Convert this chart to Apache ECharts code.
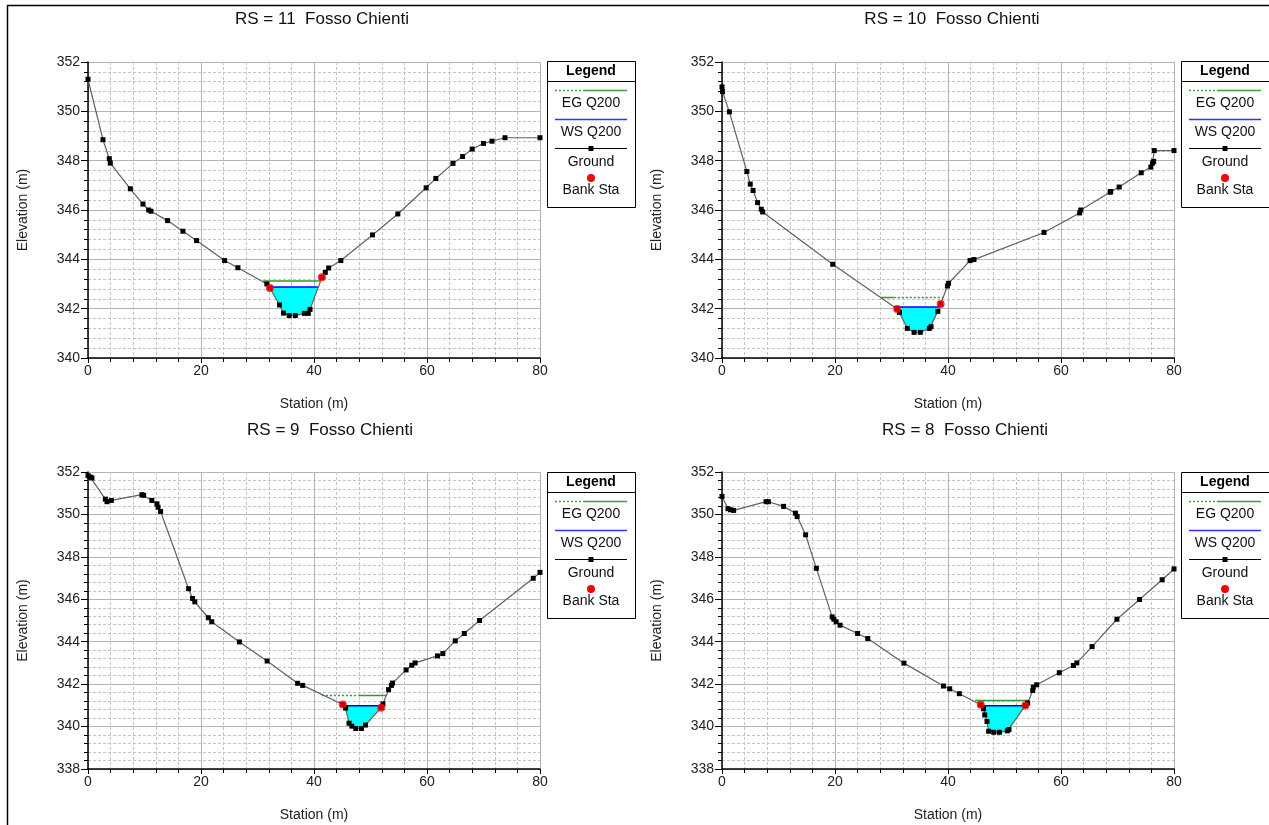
<!DOCTYPE html>
<html>
<head>
<meta charset="utf-8">
<script src="https://cdn.jsdelivr.net/npm/echarts@6/dist/echarts.min.js"></script>
<style>
html,body{margin:0;padding:0;background:#fff;}
#chart{width:1269px;height:825px;}
</style>
</head>
<body>
<div id="chart"></div>
<script>
// ---------------- DATA ----------------
const panelTitles = ['RS = 11  Fosso Chienti', 'RS = 10  Fosso Chienti', 'RS = 9  Fosso Chienti', 'RS = 8  Fosso Chienti'];
const xTicks = [0, 80, 20];           // min, max, step (Station)
const yRangeTop = [340, 352, 2];      // min, max, step (Elevation) top row
const yRangeBottom = [338, 352, 2];   // bottom row
const legendNames = ['EG Q200', 'WS Q200', 'Ground', 'Bank Sta'];

// Ground points [station, elevation]
const ground11 = [[0,351.30],[2.65,348.85],[3.77,348.08],[3.95,347.90],[7.49,346.86],[9.73,346.24],[10.73,346.0],[11.14,345.95],[14.09,345.57],[16.8,345.14],[19.22,344.76],[24.17,343.95],[26.53,343.66],[31.66,343.0],[32.19,342.84],[33.9,342.15],[34.6,341.82],[35.6,341.72],[36.7,341.72],[38.3,341.81],[39.0,341.81],[39.3,341.97],[41.4,343.27],[42.0,343.47],[42.6,343.65],[44.75,343.95],[50.35,344.99],[54.84,345.84],[59.85,346.90],[61.56,347.28],[64.6,347.89],[66.3,348.17],[68.0,348.47],[70.0,348.70],[71.5,348.79],[73.8,348.93],[80,348.93]];
const ground10 = [[0,350.99],[0.1,350.80],[1.3,349.98],[4.4,347.56],[5.0,347.05],[5.5,346.79],[6.3,346.30],[6.95,346.03],[7.2,345.92],[19.6,343.80],[31.0,341.99],[31.4,341.85],[32.8,341.2],[34.0,341.04],[35.1,341.04],[36.7,341.2],[37.0,341.27],[38.2,341.89],[38.7,342.19],[39.9,342.92],[40.1,343.03],[43.9,343.95],[44.6,343.99],[57.0,345.09],[63.3,345.88],[63.5,346.0],[68.7,346.72],[68.8,346.75],[70.3,346.93],[74.2,347.51],[75.9,347.74],[76.2,347.90],[76.4,347.97],[76.5,348.41],[80,348.41]];
const ground9 = [[0,351.83],[0.4,351.76],[0.7,351.72],[3.07,350.72],[3.36,350.60],[4.13,350.66],[9.55,350.93],[9.85,350.90],[11.3,350.66],[12.2,350.50],[12.4,350.34],[12.85,350.14],[17.8,346.50],[18.5,346.04],[18.9,345.88],[21.3,345.13],[21.9,344.94],[26.8,343.99],[31.7,343.09],[37.1,342.04],[38.0,341.94],[45.1,341.04],[45.6,340.87],[46.2,340.16],[46.7,340.02],[47.4,339.91],[48.4,339.91],[49.1,340.07],[51.9,340.89],[52.2,341.07],[53.2,341.74],[53.7,341.94],[53.9,342.05],[56.3,342.67],[57.3,342.89],[57.9,343.0],[61.85,343.33],[62.8,343.44],[65.0,344.04],[66.6,344.39],[69.3,345.0],[78.8,346.99],[80,347.27]];
const ground8 = [[0,350.85],[1.06,350.27],[1.5,350.22],[2.06,350.19],[7.8,350.60],[8.2,350.60],[10.9,350.38],[13.0,350.06],[13.3,349.90],[14.8,349.04],[16.7,347.46],[19.5,345.17],[19.8,345.06],[20.2,344.94],[20.9,344.78],[24.0,344.39],[25.8,344.15],[32.2,342.99],[39.2,341.91],[40.3,341.78],[42.0,341.55],[45.8,341.03],[46.3,340.84],[46.5,340.55],[46.9,340.24],[47.2,339.78],[48.1,339.73],[49.1,339.73],[50.5,339.80],[50.8,339.86],[53.7,340.99],[54.1,341.11],[55.0,341.70],[55.1,341.86],[55.7,341.97],[59.7,342.54],[62.2,342.88],[62.8,343.0],[65.5,343.77],[69.9,345.06],[73.9,345.99],[77.9,346.92],[80,347.43]];

// Bank stations [station, elevation]
const bank11 = [[32.19,342.84],[41.4,343.27]];
const bank10 = [[31.0,341.99],[38.7,342.19]];
const bank9  = [[45.1,341.04],[51.9,340.89]];
const bank8  = [[45.8,341.03],[53.7,340.99]];

// Water surface elevation (WS Q200)
const ws11 = 342.88, ws10 = 342.07, ws9 = 340.98, ws8 = 340.98;

// Energy grade (EG Q200): elevation, dotted station span, solid station span
const egElev = [343.12, 342.45, 341.47, 341.23];
const egDotted = [null, [30.4, 39.1], [41.4, 47.9], null];
const egSolid  = [[30.95, 41.2], [28.1, 30.4], [47.9, 52.8], [44.8, 54.3]];

// ---------------- LAYOUT ----------------
const FONT = '"Liberation Sans", Arial, Helvetica, sans-serif';
const grids = [
  {left: 88, top: 62, width: 452, height: 296},
  {left: 722, top: 62, width: 452, height: 296},
  {left: 88, top: 472, width: 452, height: 297},
  {left: 722, top: 472, width: 452, height: 297}
];
const grounds = [ground11, ground10, ground9, ground8];
const banks = [bank11, bank10, bank9, bank8];
const wsLevels = [ws11, ws10, ws9, ws8];
const titlePos = [[322, 19], [952, 19], [330, 430], [965, 430]];
const legendPos = [[547, 61], [1181, 61], [547, 472], [1181, 472]];

// water polygon: ground clipped below WS around the thalweg
function waterPolygon(g, ws) {
  let mi = 0;
  g.forEach((p, i) => { if (p[1] < g[mi][1]) mi = i; });
  let l = mi; while (l > 0 && g[l - 1][1] < ws) l--;
  let r = mi; while (r < g.length - 1 && g[r + 1][1] < ws) r++;
  const pts = [];
  if (l > 0) { const a = g[l - 1], b = g[l]; pts.push([a[0] + (b[0] - a[0]) * (a[1] - ws) / (a[1] - b[1]), ws]); }
  for (let i = l; i <= r; i++) pts.push(g[i]);
  if (r < g.length - 1) { const a = g[r], b = g[r + 1]; pts.push([a[0] + (b[0] - a[0]) * (ws - a[1]) / (b[1] - a[1]), ws]); }
  return pts;
}

const xAxes = [], yAxes = [], series = [], graphics = [];
for (let i = 0; i < 4; i++) {
  const yr = i < 2 ? yRangeTop : yRangeBottom;
  xAxes.push({
    gridIndex: i, type: 'value', min: xTicks[0], max: xTicks[1], interval: xTicks[2],
    name: 'Station (m)', nameLocation: 'middle', nameGap: 39,
    nameTextStyle: {fontFamily: FONT, fontSize: 14, color: '#222'},
    axisLine: {onZero: false, lineStyle: {color: '#000', width: 1.5}},
    axisTick: {show: true, length: 5, lineStyle: {color: '#000'}},
    minorTick: {show: true, splitNumber: 5, length: 4, lineStyle: {color: '#000'}},
    axisLabel: {fontFamily: FONT, fontSize: 14, color: '#222', margin: 6},
    splitLine: {show: true, lineStyle: {color: '#b4b4b4', width: 1}},
    minorSplitLine: {show: true, lineStyle: {color: '#c4c4c4', width: 1, type: [3, 2]}}
  });
  yAxes.push({
    gridIndex: i, type: 'value', min: yr[0], max: yr[1], interval: yr[2],
    name: 'Elevation (m)', nameLocation: 'middle', nameGap: 58,
    nameTextStyle: {fontFamily: FONT, fontSize: 14, color: '#222'},
    axisLine: {show: true, onZero: false, lineStyle: {color: '#000', width: 1.5}},
    axisTick: {show: true, length: 7, lineStyle: {color: '#000'}},
    minorTick: {show: true, splitNumber: 5, length: 4, lineStyle: {color: '#000'}},
    axisLabel: {fontFamily: FONT, fontSize: 14, color: '#222', margin: 8},
    splitLine: {show: true, lineStyle: {color: '#b4b4b4', width: 1}},
    minorSplitLine: {show: true, lineStyle: {color: '#c4c4c4', width: 1, type: [3, 2]}}
  });

  const poly = waterPolygon(grounds[i], wsLevels[i]);
  // water fill
  series.push({
    type: 'custom', xAxisIndex: i, yAxisIndex: i, z: 1, silent: true,
    data: poly, encode: {x: 0, y: 1},
    renderItem: function (params, api) {
      if (params.dataIndex !== 0) return null;
      return {type: 'polygon', shape: {points: poly.map(p => api.coord(p))}, style: {fill: '#00ffff', stroke: null}};
    }
  });
  // EG
  if (egDotted[i]) series.push({type: 'line', xAxisIndex: i, yAxisIndex: i, z: 3, symbol: 'none', silent: true,
    data: egDotted[i].map(x => [x, egElev[i]]), lineStyle: {color: '#2f9a2f', width: 1.5, type: [2, 2]}});
  if (egSolid[i]) series.push({type: 'line', xAxisIndex: i, yAxisIndex: i, z: 3, symbol: 'none', silent: true,
    data: egSolid[i].map(x => [x, egElev[i]]), lineStyle: {color: '#2f9a2f', width: 1.5}});
  // WS
  series.push({type: 'line', xAxisIndex: i, yAxisIndex: i, z: 4, symbol: 'none', silent: true,
    data: [poly[0], poly[poly.length - 1]], lineStyle: {color: '#0000ff', width: 1.5}});
  // Ground
  series.push({type: 'line', xAxisIndex: i, yAxisIndex: i, z: 5, silent: true,
    data: grounds[i], symbol: 'rect', symbolSize: 5, itemStyle: {color: '#000'},
    lineStyle: {color: '#606060', width: 1.2}});
  // Bank stations
  series.push({type: 'scatter', xAxisIndex: i, yAxisIndex: i, z: 6, silent: true,
    data: banks[i], symbol: 'circle', symbolSize: 8, itemStyle: {color: '#ff0000'}});

  // title
  graphics.push({type: 'text', x: titlePos[i][0], y: titlePos[i][1], silent: true,
    style: {text: panelTitles[i], textAlign: 'center', textVerticalAlign: 'middle', font: '17px ' + FONT, fill: '#111'}});

  // legend box
  const lx = legendPos[i][0], ly = legendPos[i][1], cx = lx + 44;
  graphics.push({type: 'rect', shape: {x: lx + 0.5, y: ly + 0.5, width: 88, height: 146}, style: {fill: '#fff', stroke: '#000', lineWidth: 1}, silent: true});
  graphics.push({type: 'line', shape: {x1: lx, y1: ly + 20.5, x2: lx + 88, y2: ly + 20.5}, style: {stroke: '#000', lineWidth: 1}, silent: true});
  graphics.push({type: 'text', x: cx, y: ly + 10, style: {text: 'Legend', textAlign: 'center', textVerticalAlign: 'middle', font: 'bold 14px ' + FONT, fill: '#000'}, silent: true});
  graphics.push({type: 'line', shape: {x1: lx + 8, y1: ly + 29.5, x2: lx + 36, y2: ly + 29.5}, style: {stroke: '#3a9e3a', lineWidth: 1.5, lineDash: [2, 2]}, silent: true});
  graphics.push({type: 'line', shape: {x1: lx + 36, y1: ly + 29.5, x2: lx + 80, y2: ly + 29.5}, style: {stroke: '#3a9e3a', lineWidth: 1.5}, silent: true});
  graphics.push({type: 'line', shape: {x1: lx + 8, y1: ly + 58.5, x2: lx + 80, y2: ly + 58.5}, style: {stroke: '#3030ff', lineWidth: 1.5}, silent: true});
  graphics.push({type: 'line', shape: {x1: lx + 8, y1: ly + 87.5, x2: lx + 80, y2: ly + 87.5}, style: {stroke: '#000', lineWidth: 1}, silent: true});
  graphics.push({type: 'rect', shape: {x: cx - 2.5, y: ly + 85, width: 5, height: 5}, style: {fill: '#000'}, silent: true});
  graphics.push({type: 'circle', shape: {cx: cx, cy: ly + 117, r: 4}, style: {fill: '#ff0000'}, silent: true});
  const ty = [42, 71, 101, 129];
  legendNames.forEach((t, k) => graphics.push({type: 'text', x: cx, y: ly + ty[k], silent: true,
    style: {text: t, textAlign: 'center', textVerticalAlign: 'middle', font: '14px ' + FONT, fill: '#111'}}));
}
// outer frame
graphics.push({type: 'line', shape: {x1: 7.5, y1: 5, x2: 7.5, y2: 825}, style: {stroke: '#000', lineWidth: 1.5}, silent: true});
graphics.push({type: 'line', shape: {x1: 7, y1: 5.5, x2: 1269, y2: 5.5}, style: {stroke: '#000', lineWidth: 1.5}, silent: true});

const chart = echarts.init(document.getElementById('chart'), null, {renderer: 'canvas'});
chart.setOption({
  animation: false,
  backgroundColor: '#fff',
  grid: grids.map(g => Object.assign({containLabel: false}, g)),
  xAxis: xAxes,
  yAxis: yAxes,
  series: series,
  graphic: graphics
});
</script>
</body>
</html>
